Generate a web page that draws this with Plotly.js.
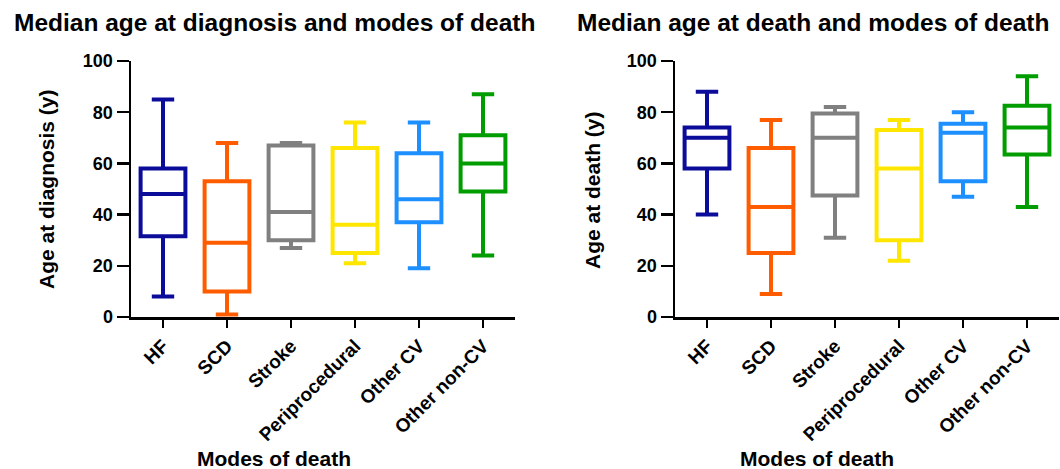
<!DOCTYPE html>
<html>
<head>
<meta charset="utf-8">
<script src="https://cdn.plot.ly/plotly-3.0.1.min.js"></script>
<style>html,body{margin:0;padding:0;background:#fff;}#chart{width:1060px;height:469px;}</style>
</head>
<body>
<div id="chart"></div>
<script>
// ---- Data ----
var categories = ["HF", "SCD", "Stroke", "Periprocedural", "Other CV", "Other non-CV"];
var colors = ["#0c0c9a", "#ff5c00", "#808080", "#ffe600", "#1e8fff", "#009c00"];

// Age at diagnosis
var diagLow  = [8, 1, 27, 21, 19, 24];
var diagQ1   = [31.5, 10, 30, 25, 37, 49];
var diagMed  = [48, 29, 41, 36, 46, 60];
var diagQ3   = [58, 53, 67, 66, 64, 71];
var diagHigh = [85, 68, 68, 76, 76, 87];

// Age at death
var deathLow  = [40, 9, 31, 22, 47, 43];
var deathQ1   = [58, 25, 47.5, 30, 53, 63.5];
var deathMed  = [70, 43, 70, 58, 72, 74];
var deathQ3   = [74, 66, 79.5, 73, 75.5, 82.5];
var deathHigh = [88, 77, 82, 77, 80, 94];

var yTicks = [0, 20, 40, 60, 80, 100];

var FONT = "Liberation Sans, Arial, Helvetica, sans-serif";
var W = 1060, H = 469;
var PLOT_TOP = 61, PLOT_H = 256;

var traces = [];
function addBoxes(low, q1, med, q3, high, xa, ya) {
  for (var i = 0; i < categories.length; i++) {
    traces.push({
      type: "box",
      x: [categories[i]],
      lowerfence: [low[i]],
      q1: [q1[i]],
      median: [med[i]],
      q3: [q3[i]],
      upperfence: [high[i]],
      xaxis: xa, yaxis: ya,
      width: 0.7,
      whiskerwidth: 0.5,
      line: {color: colors[i], width: 4},
      fillcolor: "rgba(255,255,255,0)",
      boxpoints: false,
      hoverinfo: "skip",
      showlegend: false
    });
  }
}
addBoxes(diagLow, diagQ1, diagMed, diagQ3, diagHigh, "x", "y");
addBoxes(deathLow, deathQ1, deathMed, deathQ3, deathHigh, "x2", "y2");

function xAxis(d0, d1, anchor) {
  return {
    domain: [d0 / W, d1 / W],
    anchor: anchor,
    type: "category",
    categoryorder: "array",
    categoryarray: categories,
    range: [-0.5, 5.5],
    showline: true, linecolor: "#000", linewidth: 2.5,
    ticks: "outside", ticklen: 8, tickwidth: 2.5, tickcolor: "#000",
    tickangle: -45,
    tickfont: {family: FONT, size: 19, color: "#000", weight: "bold"},
    showgrid: false, zeroline: false, fixedrange: true
  };
}
function yAxis(anchor) {
  return {
    anchor: anchor,
    range: [0, 100],
    tickvals: yTicks,
    ticktext: yTicks.map(String),
    showline: true, linecolor: "#000", linewidth: 2.5,
    ticks: "outside", ticklen: 12, tickwidth: 2.5, tickcolor: "#000",
    tickfont: {family: FONT, size: 18, color: "#000", weight: "bold"},
    showgrid: false, zeroline: false, fixedrange: true
  };
}

function pxAnn(text, xpx, ypx, size, angle) {
  return {
    text: text, xref: "paper", yref: "paper",
    x: xpx / W, y: (PLOT_TOP + PLOT_H - ypx) / PLOT_H,
    xanchor: "center", yanchor: "middle",
    showarrow: false,
    font: {family: FONT, size: size, color: "#000", weight: "bold"},
    textangle: angle || 0
  };
}

var layout = {
  width: W, height: H,
  autosize: false,
  margin: {l: 0, r: 0, t: PLOT_TOP, b: H - PLOT_TOP - PLOT_H, pad: 0},
  paper_bgcolor: "#fff", plot_bgcolor: "#fff",
  boxmode: "overlay",
  showlegend: false,
  xaxis: xAxis(131, 515, "y"),
  yaxis: yAxis("x"),
  xaxis2: xAxis(675, 1059, "y2"),
  yaxis2: yAxis("x2"),
  annotations: [
    pxAnn("Median age at diagnosis and modes of death", 274.5, 22, 24.5),
    pxAnn("Median age at death and modes of death", 813, 22, 24.5),
    pxAnn("Age at diagnosis (y)", 46, 189, 21, -90),
    pxAnn("Age at death (y)", 592, 190, 21, -90),
    pxAnn("Modes of death", 274, 458, 21),
    pxAnn("Modes of death", 817, 458, 21)
  ]
};

Plotly.newPlot("chart", traces, layout, {displayModeBar: false, staticPlot: true});
</script>
</body>
</html>
